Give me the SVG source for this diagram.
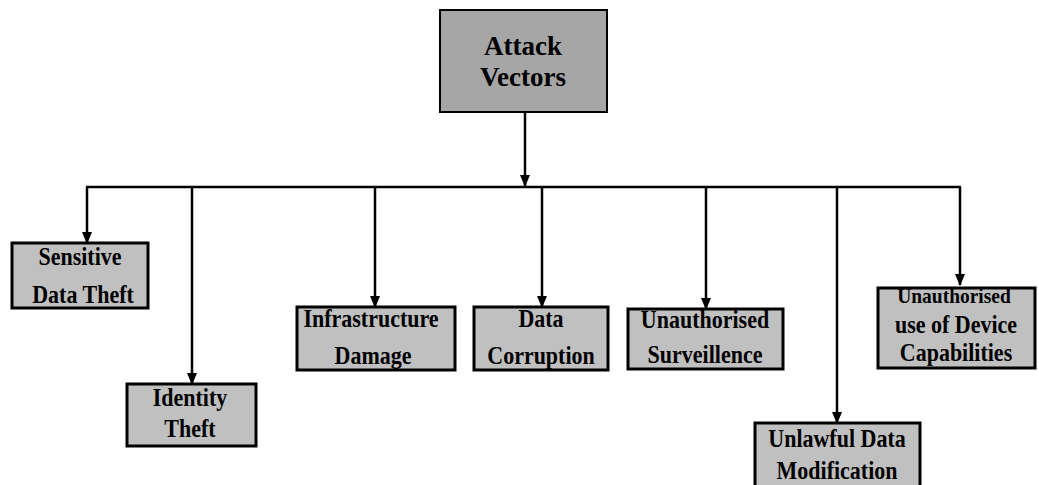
<svg xmlns="http://www.w3.org/2000/svg" width="1039" height="485" viewBox="0 0 1039 485">
<style>
.box{fill:#c0c0c0;stroke:#000;stroke-width:3}
.main{fill:#a6a6a6;stroke:#000;stroke-width:2}
.t{font-family:"Liberation Serif","Times New Roman",serif;font-weight:bold;font-size:22px;fill:#000;text-anchor:middle}
.tm{font-size:27px}
.ts{font-size:19.5px}
.c{fill:none;stroke:#000;stroke-width:2.5}
</style>
<defs>
<marker id="ah" viewBox="0 0 12 10" refX="11" refY="5" markerWidth="12" markerHeight="10" markerUnits="userSpaceOnUse" orient="auto">
<path d="M0,0 L12,5 L0,10 z" fill="#000"/>
</marker>
</defs>
<g id="connectors">
<line class="c" x1="525" y1="112" x2="525" y2="186" marker-end="url(#ah)"/>
<line class="c" x1="86" y1="187" x2="961" y2="187"/>
<line class="c" x1="87" y1="187" x2="87" y2="243" marker-end="url(#ah)"/>
<line class="c" x1="192" y1="187" x2="192" y2="384" marker-end="url(#ah)"/>
<line class="c" x1="375" y1="187" x2="375" y2="307" marker-end="url(#ah)"/>
<line class="c" x1="542" y1="187" x2="542" y2="307" marker-end="url(#ah)"/>
<line class="c" x1="706" y1="187" x2="706" y2="309" marker-end="url(#ah)"/>
<line class="c" x1="837" y1="187" x2="837" y2="423" marker-end="url(#ah)"/>
<line class="c" x1="960" y1="187" x2="960" y2="285" marker-end="url(#ah)"/>
</g>
<g id="attack-vectors">
<rect class="main" x="440" y="10" width="167" height="102"/>
<text class="t tm" x="523" y="55">Attack</text>
<text class="t tm" x="523" y="86">Vectors</text>
</g>
<g id="sensitive-data-theft">
<rect class="box" x="12" y="243" width="136" height="65"/>
<text class="t" transform="translate(80,265) scale(1,1.12)">Sensitive</text>
<text class="t" transform="translate(83,303) scale(1,1.12)">Data Theft</text>
</g>
<g id="identity-theft">
<rect class="box" x="127" y="384" width="129" height="62"/>
<text class="t" transform="translate(190,406) scale(1,1.12)">Identity</text>
<text class="t" transform="translate(190,437) scale(1,1.12)">Theft</text>
</g>
<g id="infrastructure-damage">
<rect class="box" x="297" y="307" width="158" height="63"/>
<text class="t" transform="translate(371,327) scale(1,1.12)">Infrastructure</text>
<text class="t" transform="translate(373,364) scale(1,1.12)">Damage</text>
</g>
<g id="data-corruption">
<rect class="box" x="474" y="307" width="134" height="63"/>
<text class="t" transform="translate(541,327) scale(1,1.12)">Data</text>
<text class="t" transform="translate(541,364) scale(1,1.12)">Corruption</text>
</g>
<g id="unauthorised-surveillance">
<rect class="box" x="628" y="309" width="155" height="60"/>
<text class="t" transform="translate(705,328) scale(1,1.12)">Unauthorised</text>
<text class="t" transform="translate(705,363) scale(1,1.12)">Surveillence</text>
</g>
<g id="unlawful-data-modification">
<rect class="box" x="755" y="423" width="165" height="70"/>
<text class="t" transform="translate(837,447) scale(1,1.12)">Unlawful Data</text>
<text class="t" transform="translate(837,479) scale(1,1.12)">Modification</text>
</g>
<g id="unauthorised-device-capabilities">
<rect class="box" x="878" y="288" width="157" height="80"/>
<text class="t ts" transform="translate(954,303) scale(1,1.12)">Unauthorised</text>
<text class="t" transform="translate(956,333) scale(1,1.12)">use of Device</text>
<text class="t" transform="translate(956,361) scale(1,1.12)">Capabilities</text>
</g>
</svg>
